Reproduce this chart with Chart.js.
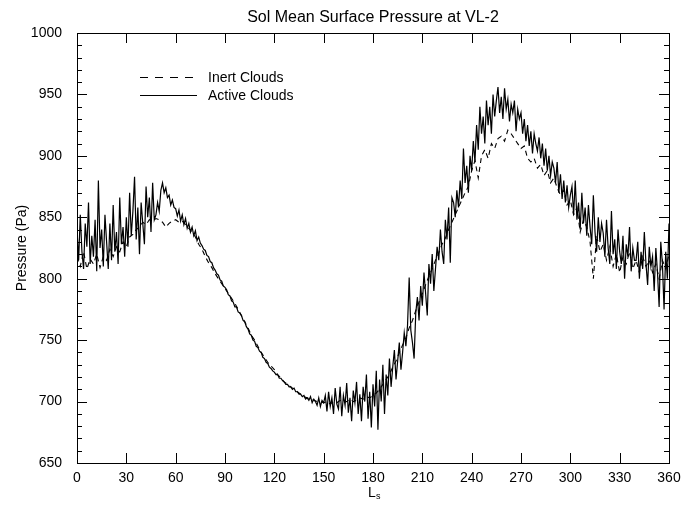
<!DOCTYPE html>
<html>
<head>
<meta charset="utf-8">
<script src="https://cdn.jsdelivr.net/npm/chart.js@4.4.1/dist/chart.umd.min.js"></script>
<style>
html,body{margin:0;padding:0;background:#fff;}
#wrap{width:691px;height:505px;position:relative;}
</style>
</head>
<body>
<div id="wrap"><canvas id="c" width="691" height="505"></canvas></div>
<script>
// Areocentric longitude sampling
const activeStart = 0, activeStep = 1;   // Ls 0..360 every 1 deg
const inertStart = 0, inertStep = 2;     // Ls 0..360 every 2 deg

// Active Clouds (Pa), one value per degree of Ls
const activeClouds = [
 840,815,852,822,808,845,826,862,812,835,
 818,848,806,880,825,840,810,852,830,808,
 845,815,860,822,838,812,866,828,842,818,
 850,826,870,835,855,883,832,858,820,862,
 845,828,875,850,866,838,878,848,852,862,
 855,872,878,870,874,866,868,860,864,858,
 857,851,856,847,852,844,849,841,845,838,
 842,835,839,831,834,829,827,824,823,819,
 818,814,813,809,807,804,803,799,798,794,
 793,791,787,786,782,781,777,777,773,772,
 770,766,765,761,759,755,754,750,749,745,
 744,741,740,736,735,732,731,728,727,725,
 724,722,722,719,719,717,716,714,714,712,
 712,710,711,708,708,706,706,704,705,702,
 703,701,704,699,702,700,697,703,696,701,
 699,705,692,708,696,703,690,711,698,694,
 712,688,705,697,715,691,703,684,709,699,
 716,690,706,684,712,700,722,686,708,679,
 714,696,725,677,718,700,730,690,722,705,
 735,712,728,742,718,733,748,726,740,756,
 745,762,801,758,748,735,772,785,766,794,
 778,805,788,770,812,796,820,790,808,826,
 815,840,822,812,848,832,858,813,866,862,
 850,872,858,880,865,906,878,892,870,900,
 888,912,895,925,905,940,918,932,910,945,
 925,940,918,950,932,945,956,935,948,930,
 955,938,946,928,942,935,945,920,938,930,
 935,918,930,912,925,908,920,902,918,910,
 904,915,898,910,892,906,888,900,884,895,
 890,878,895,870,885,865,880,862,876,858,
 868,875,852,880,848,862,840,870,845,858,
 835,860,842,828,868,838,822,850,830,845,
 837,818,848,825,812,855,820,832,808,840,
 822,812,835,800,828,818,842,806,825,815,
 815,830,800,822,808,838,812,795,826,810,
 818,790,825,805,777,830,812,775,822,800,
 845
];

// Inert Clouds (Pa), one value every 2 degrees of Ls
const inertClouds = [
 818,810,822,808,816,812,820,809,818,815,
 824,818,826,822,830,826,834,836,840,842,
 846,844,848,847,849,848,846,842,845,847,
 848,846,847,844,841,838,834,828,824,818,
 813,809,804,800,796,792,788,784,780,775,
 770,765,760,754,750,745,740,736,732,729,
 726,722,719,716,714,712,710,708,706,704,
 703,702,701,700,700,699,700,698,700,699,
 701,699,700,702,700,701,703,702,704,703,
 705,707,710,714,718,722,728,733,740,746,
 752,760,766,774,781,788,795,802,808,815,
 821,828,833,840,846,852,858,864,870,875,
 888,896,882,900,905,898,910,906,914,916,
 912,921,918,914,910,906,908,898,895,898,
 890,893,884,888,878,882,874,868,872,860,
 864,852,858,838,848,842,830,800,835,822,
 828,815,826,810,820,805,818,812,822,808,
 815,805,818,810,815,805,812,800,815,808,
 820
];

const xTicks = [0,30,60,90,120,150,180,210,240,270,300,330,360];
const yTicks = [650,700,750,800,850,900,950,1000];

const titleText = 'Sol Mean Surface Pressure at VL-2';
const yTitle = 'Pressure (Pa)';
const legendLabels = ['Inert Clouds','Active Clouds'];

const FONT = '"Liberation Sans", Arial, Helvetica, sans-serif';

const activePts = activeClouds.map((v,i)=>({x: activeStart + i*activeStep, y: v}));
const inertPts = inertClouds.map((v,i)=>({x: inertStart + i*inertStep, y: v}));

const framePlugin = {
  id: 'frame',
  afterDraw(chart) {
    const ctx = chart.ctx;
    const a = chart.chartArea;
    const xs = chart.scales.x, ys = chart.scales.y;
    ctx.save();
    ctx.strokeStyle = '#000';
    ctx.lineWidth = 1;
    ctx.strokeRect(a.left + 0.5, a.top + 0.5, a.right - a.left, a.bottom - a.top);
    ctx.beginPath();
    for (const t of xTicks) {
      const px = Math.round(xs.getPixelForValue(t)) + 0.5;
      ctx.moveTo(px, a.bottom); ctx.lineTo(px, a.bottom - 10);
      ctx.moveTo(px, a.top); ctx.lineTo(px, a.top + 10);
    }
    for (let v = yTicks[0]; v <= yTicks[yTicks.length-1]; v += 10) {
      const py = Math.round(ys.getPixelForValue(v)) + 0.5;
      const len = (v % 50 === 0) ? 10 : 5;
      ctx.moveTo(a.left, py); ctx.lineTo(a.left + len, py);
      ctx.moveTo(a.right, py); ctx.lineTo(a.right - len, py);
    }
    ctx.stroke();

    // title
    ctx.fillStyle = '#000';
    ctx.textAlign = 'center';
    ctx.textBaseline = 'middle';
    ctx.font = '16px ' + FONT;
    ctx.fillText(titleText, (a.left + a.right)/2, 18);

    // x axis title L with subscript s
    ctx.font = '14px ' + FONT;
    ctx.textAlign = 'left';
    ctx.fillText('L', 368, 493);
    ctx.font = '9px ' + FONT;
    ctx.fillText('s', 376, 497);

    // y axis title
    ctx.save();
    ctx.translate(22, 248);
    ctx.rotate(-Math.PI/2);
    ctx.textAlign = 'center';
    ctx.font = '14px ' + FONT;
    ctx.fillText(yTitle, 0, 0);
    ctx.restore();

    // legend
    ctx.lineWidth = 1;
    ctx.setLineDash([8,7]);
    ctx.beginPath(); ctx.moveTo(140, 77.5); ctx.lineTo(194, 77.5); ctx.stroke();
    ctx.setLineDash([]);
    ctx.lineWidth = 1.2;
    ctx.beginPath(); ctx.moveTo(140, 95.5); ctx.lineTo(197, 95.5); ctx.stroke();
    ctx.font = '14px ' + FONT;
    ctx.textAlign = 'left';
    ctx.fillText(legendLabels[0], 208, 78);
    ctx.fillText(legendLabels[1], 208, 96);
    ctx.restore();
  }
};

new Chart(document.getElementById('c'), {
  type: 'line',
  data: {
    datasets: [
      { label: legendLabels[1], data: activePts, borderColor: '#000', borderWidth: 1.2,
        pointRadius: 0, tension: 0, fill: false, order: 0 },
      { label: legendLabels[0], data: inertPts, borderColor: '#000', borderWidth: 1.1,
        borderDash: [5,4], pointRadius: 0, tension: 0, fill: false, order: 1 }
    ]
  },
  options: {
    responsive: false,
    animation: false,
    devicePixelRatio: 1,
    layout: { padding: { top: 33, right: 22, bottom: 0, left: 0 } },
    plugins: { legend: { display: false }, tooltip: { enabled: false }, title: { display: false } },
    scales: {
      x: {
        type: 'linear', min: 0, max: 360,
        grid: { display: false }, border: { display: false },
        afterBuildTicks(s) { s.ticks = xTicks.map(v => ({ value: v })); },
        afterFit(s) { s.height = 42; },
        ticks: { color: '#000', font: { family: FONT, size: 14 }, padding: -1, maxRotation: 0, autoSkip: false,
                 callback: v => String(v) }
      },
      y: {
        type: 'linear', min: 650, max: 1000,
        grid: { display: false }, border: { display: false },
        afterBuildTicks(s) { s.ticks = yTicks.map(v => ({ value: v })); },
        afterFit(s) { s.width = 77; },
        ticks: { color: '#000', font: { family: FONT, size: 14 }, padding: 7, autoSkip: false,
                 callback: v => String(v) }
      }
    }
  },
  plugins: [framePlugin]
});
</script>
</body>
</html>
